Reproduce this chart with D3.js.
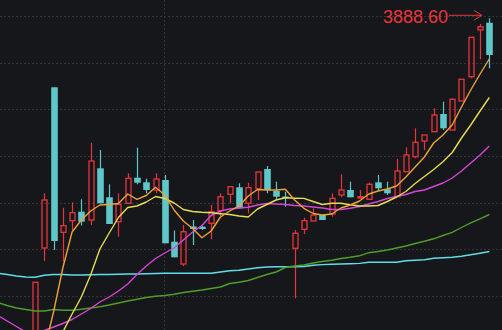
<!DOCTYPE html>
<html>
<head>
<meta charset="utf-8">
<script src="https://cdn.jsdelivr.net/npm/d3@7"></script>
<style>
  html, body { margin: 0; padding: 0; background: #16171b; }
  svg { display: block; }
</style>
</head>
<body>
<script>

// Day index of every candle (negative ones sit below the visible window)
var days = d3.range(-4, 50);

// Candles: open, high, low, close
var opens  = [3105, 3112, 3122, 3118, 3150, 3429.2, 3750.6, 3460.6, 3483.8, 3501.8, 3485.2, 3588.6, 3530.6, 3481.8, 3518.6, 3569.8, 3560.6, 3545.2, 3565.2, 3441.8, 3397.2, 3472.2, 3471.8, 3478.6, 3503.8, 3536.6, 3550.6, 3518.6, 3547.6, 3587.2, 3543.2, 3532.2, 3428.6, 3466.6, 3483.2, 3495.2, 3497.2, 3535.2, 3545.2, 3529.2, 3526.6, 3560.6, 3546.6, 3531.8, 3581.8, 3611.8, 3643.2, 3661.8, 3697.2, 3665.2, 3723.2, 3771.8, 3865.2, 3879.8];
var highs  = [3118, 3130, 3138, 3150, 3360.6, 3538.6, 3750.6, 3509.6, 3520.6, 3526.6, 3639.8, 3625.2, 3556.6, 3538.6, 3578.6, 3629.8, 3567.8, 3578.6, 3575.2, 3464.2, 3475.2, 3485.2, 3475.2, 3515.2, 3538.6, 3551.8, 3558.6, 3559.8, 3581.2, 3593.2, 3561.8, 3541.8, 3465.2, 3489.8, 3508.6, 3495.2, 3538.6, 3576.6, 3561.8, 3545.2, 3560.6, 3575.2, 3561.8, 3607.2, 3630.6, 3668.6, 3655.2, 3708.6, 3721.8, 3728.6, 3766.6, 3850.6, 3877.2, 3888.6];
var lows   = [3092, 3100, 3110, 3112, 3145, 3403.2, 3425.2, 3401.8, 3465.2, 3474.2, 3475.2, 3518.6, 3477.2, 3451.8, 3517.2, 3556.6, 3538.6, 3539.2, 3438.6, 3410.6, 3393.2, 3435.2, 3465.2, 3446.6, 3493.2, 3518.6, 3508.6, 3498.6, 3525.2, 3538.6, 3527.2, 3511.8, 3328.6, 3457.2, 3483.2, 3485.2, 3491.8, 3530.6, 3530.6, 3529.2, 3526.6, 3543.2, 3535.2, 3531.8, 3581.8, 3608.6, 3625.2, 3661.8, 3665.2, 3665.2, 3723.2, 3768.6, 3806.6, 3788.6];
var closes = [3112, 3122, 3118, 3140, 3360.6, 3525.2, 3443.2, 3473.8, 3499.8, 3481.8, 3603.2, 3518.6, 3477.2, 3516.6, 3568.6, 3559.8, 3545.2, 3567.2, 3438.6, 3410.6, 3461.8, 3467.2, 3467.2, 3501.8, 3531.8, 3551.8, 3508.6, 3549.8, 3581.2, 3545.2, 3531.8, 3530.2, 3458.6, 3483.8, 3495.2, 3485.2, 3528.6, 3545.2, 3530.6, 3531.8, 3556.6, 3548.6, 3538.6, 3583.2, 3615.2, 3640.6, 3655.2, 3695.2, 3668.6, 3726.6, 3766.6, 3850.6, 3871.8, 3815.2];

// Moving average lines
var ma5   = [3115.2, 3125.2, 3133.2, 3145.2, 3169.2, 3225.2, 3301.2, 3389.2, 3461.2, 3485.2, 3503.2, 3515.2, 3516.2, 3518.2, 3537.2, 3526.6, 3534.2, 3550.6, 3535.2, 3505.2, 3483.2, 3468.2, 3449.8, 3463.2, 3491.2, 3503.2, 3513.2, 3533.2, 3546.2, 3545.2, 3545.2, 3546.6, 3525.2, 3508.6, 3498.2, 3495.2, 3497.2, 3509.2, 3515.2, 3523.2, 3537.2, 3543.2, 3547.2, 3553.2, 3571.2, 3591.2, 3611.2, 3639.2, 3655.2, 3675.2, 3711.2, 3745.2, 3777.2, 3807.2];
var ma10  = [3135.2, 3141.2, 3149.2, 3157.2, 3169.2, 3189.2, 3221.2, 3261.2, 3297.2, 3331.2, 3375.2, 3427.2, 3459.2, 3490.2, 3510.2, 3513.2, 3521.2, 3532.2, 3528.2, 3519.2, 3506.2, 3502.2, 3500.6, 3499.6, 3497.8, 3496.2, 3493.2, 3491.2, 3507.2, 3516.2, 3525.2, 3529.6, 3528.8, 3528.4, 3522.2, 3516.2, 3518.6, 3518.6, 3515.6, 3513.2, 3513.2, 3514.2, 3522.2, 3531.2, 3542.2, 3558.2, 3572.2, 3586.2, 3601.8, 3620.2, 3649.2, 3675.2, 3703.2, 3730.2];
var ma20  = [3294.2, 3283.2, 3272.2, 3261.2, 3257.2, 3264.2, 3271.2, 3278.2, 3286.2, 3297.2, 3308.2, 3321.2, 3331.2, 3343.2, 3357.2, 3376.2, 3393.2, 3408.2, 3419.2, 3429.2, 3445.2, 3461.2, 3474.2, 3494.2, 3503.2, 3507.2, 3509.2, 3510.6, 3515.2, 3518.2, 3517.2, 3516.2, 3514.2, 3513.2, 3511.2, 3509.2, 3506.2, 3506.2, 3508.6, 3512.2, 3517.2, 3522.2, 3528.2, 3532.2, 3536.2, 3542.2, 3545.2, 3552.2, 3559.2, 3569.2, 3583.2, 3599.2, 3615.2, 3633.2];
var ma60  = [3320.2, 3314.2, 3309.2, 3306.2, 3303.2, 3303.2, 3306.2, 3304.6, 3304.6, 3306.8, 3309.2, 3311.8, 3315.2, 3319.2, 3323.2, 3326.6, 3330.2, 3332.6, 3334.2, 3336.8, 3340.2, 3342.8, 3345.2, 3348.2, 3351.2, 3358.2, 3360.8, 3364.2, 3370.2, 3376.2, 3381.2, 3390.2, 3393.2, 3395.2, 3399.2, 3402.2, 3404.8, 3408.2, 3410.6, 3413.6, 3419.8, 3422.2, 3425.2, 3429.2, 3433.2, 3438.2, 3442.6, 3447.6, 3454.2, 3460.6, 3470.2, 3479.6, 3487.6, 3496.2];
var ma120 = [3378.6, 3376.2, 3373.2, 3371.2, 3370.6, 3374.6, 3376.2, 3376.2, 3375.2, 3375.2, 3375.6, 3376.2, 3376.2, 3376.6, 3377.2, 3377.2, 3377.6, 3378.2, 3378.6, 3378.6, 3378.6, 3378.6, 3378.6, 3378.6, 3381.2, 3383.6, 3384.8, 3387.2, 3389.8, 3391.2, 3391.8, 3391.8, 3391.8, 3392.2, 3394.8, 3396.0, 3396.6, 3397.2, 3397.8, 3398.4, 3400.6, 3400.6, 3400.6, 3400.8, 3403.6, 3404.8, 3405.8, 3408.6, 3409.6, 3410.6, 3412.8, 3415.6, 3418.8, 3422.2];

// Price levels of the dotted grid and the day of the vertical divider
var gridLevels = [3893, 3800, 3707, 3614, 3520, 3427, 3334];
var dividerDays = [14];

var maLines = [
    {values: ma120, color: "#62dde8"},
    {values: ma60,  color: "#4f9e28"},
    {values: ma20,  color: "#d845d8"},
    {values: ma10,  color: "#e6dc55"},
    {values: ma5,   color: "#eca238"}
];

var upColor = "#e8353c";
var downColor = "#5fc6c9";

window.onload = function() {
    drawChart();
};

function drawChart(){

    var width = 502;
    var height = 330;

    var svg = d3.select("body")
                .append("svg")
                .attr("width", width)
                .attr("height", height);

    svg.append("rect")
        .attr("width", width)
        .attr("height", height)
        .attr("fill", "#16171b");

    // Scales
    var xScale = d3.scaleLinear()
                    .domain([0, 49])
                    .range([35, 489.3]);

    var yScale = d3.scaleLinear()
                    .domain([3265.2, 3925.2])
                    .range([height, 0]);

    // Dotted grid
    svg.selectAll(".grid")
        .data(gridLevels)
        .enter()
        .append("line")
        .attr("x1", 0)
        .attr("x2", width)
        .attr("y1", function(d) { return Math.round(yScale(d)) + 0.5; })
        .attr("y2", function(d) { return Math.round(yScale(d)) + 0.5; })
        .attr("stroke", "#34363c")
        .attr("stroke-width", 1)
        .attr("stroke-dasharray", "2,2");

    svg.selectAll(".divider")
        .data(dividerDays)
        .enter()
        .append("line")
        .attr("x1", function(d) { return Math.round(xScale(d)) - 0.5; })
        .attr("x2", function(d) { return Math.round(xScale(d)) - 0.5; })
        .attr("y1", 0)
        .attr("y2", height)
        .attr("stroke", "#34363c")
        .attr("stroke-width", 1)
        .attr("stroke-dasharray", "2,2");

    // Candle table
    var candles = days.map(function(d, i) {
        return {day: d, open: opens[i], high: highs[i], low: lows[i], close: closes[i]};
    });

    var g = svg.append("g");

    candles.forEach(function(c) {
        var cx = Math.round(xScale(c.day)) + 0.5;
        var up = c.close >= c.open;
        var top = yScale(Math.max(c.open, c.close));
        var bottom = yScale(Math.min(c.open, c.close));
        var color = up ? upColor : downColor;

        if (up) {
            // wick above and below a hollow body
            g.append("line")
                .attr("x1", cx).attr("x2", cx)
                .attr("y1", yScale(c.high)).attr("y2", top)
                .attr("stroke", color).attr("stroke-width", 1.2);
            g.append("line")
                .attr("x1", cx).attr("x2", cx)
                .attr("y1", bottom).attr("y2", yScale(c.low))
                .attr("stroke", color).attr("stroke-width", 1.2);
            g.append("rect")
                .attr("x", cx - 2.5)
                .attr("y", top)
                .attr("width", 5)
                .attr("height", Math.max(bottom - top, 1))
                .attr("fill", "none")
                .attr("stroke", color)
                .attr("stroke-width", 1.3);
        } else {
            g.append("line")
                .attr("x1", cx).attr("x2", cx)
                .attr("y1", yScale(c.high)).attr("y2", yScale(c.low))
                .attr("stroke", color).attr("stroke-width", 1.2);
            g.append("rect")
                .attr("x", cx - 3.3)
                .attr("y", top)
                .attr("width", 6.6)
                .attr("height", Math.max(bottom - top, 1.5))
                .attr("fill", color);
        }
    });

    // Moving averages
    var line = d3.line()
                .x(function(d, i) { return xScale(days[i]); })
                .y(function(d) { return yScale(d); });

    svg.selectAll(".ma")
        .data(maLines)
        .enter()
        .append("path")
        .attr("d", function(d) { return line(d.values); })
        .attr("fill", "none")
        .attr("stroke", function(d) { return d.color; })
        .attr("stroke-width", 1.4)
        .attr("stroke-linejoin", "round");

    // Highest price marker
    var maxIndex = d3.maxIndex(highs);
    var maxHigh = highs[maxIndex];
    var markY = yScale(maxHigh) - 3;
    var tipX = xScale(days[maxIndex]) - 7.5;
    var textX = 448;

    svg.append("line")
        .attr("x1", textX + 1)
        .attr("x2", tipX)
        .attr("y1", markY)
        .attr("y2", markY)
        .attr("stroke", upColor)
        .attr("stroke-width", 1);

    svg.append("path")
        .attr("d", "M" + (tipX - 8) + "," + (markY - 5) + "L" + tipX + "," + markY + "L" + (tipX - 8) + "," + (markY + 5))
        .attr("fill", "none")
        .attr("stroke", upColor)
        .attr("stroke-width", 1);

    svg.append("text")
        .attr("x", textX)
        .attr("y", markY + 7.5)
        .attr("text-anchor", "end")
        .attr("font-family", "Liberation Sans, Arial, sans-serif")
        .attr("font-size", "18px")
        .attr("fill", upColor)
        .text(maxHigh.toFixed(2));
}

</script>
</body>
</html>
